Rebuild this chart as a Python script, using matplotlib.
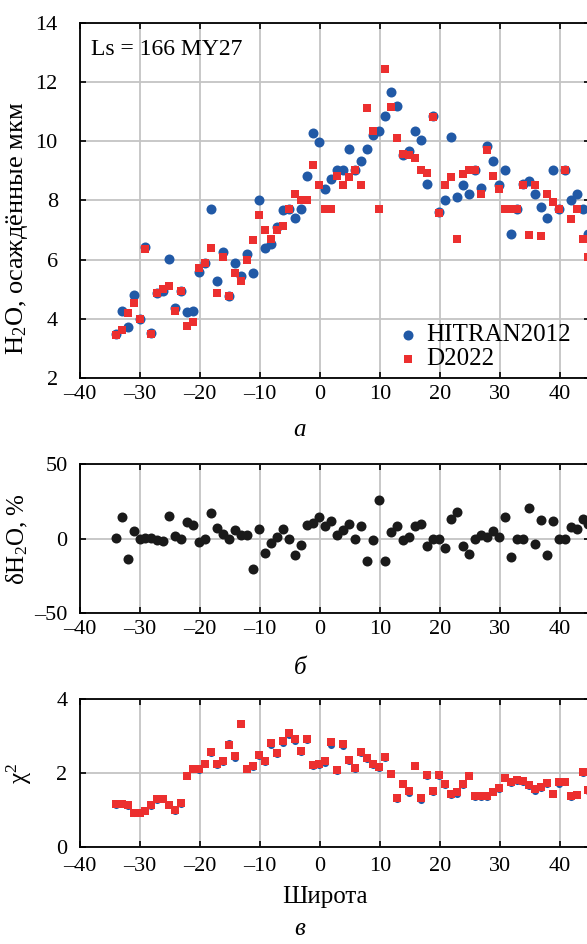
import numpy as np
import matplotlib
matplotlib.use("Agg")
import matplotlib.pyplot as plt

plt.rcParams['font.family'] = ['Liberation Serif', 'DejaVu Serif']
plt.rcParams['mathtext.fontset'] = 'custom'
plt.rcParams['mathtext.rm'] = 'Liberation Serif'
plt.rcParams['mathtext.it'] = 'Liberation Serif:italic'

# ── данные ───────────────────────────────────────────────────────
lat = [-34.0, -33.0, -32.0, -31.0, -30.0, -29.1, -28.1, -27.1, -26.1, -25.1,
       -24.1, -23.1, -22.1, -21.1, -20.1, -19.1, -18.1, -17.1, -16.1, -15.1,
       -14.1, -13.1, -12.1, -11.1, -10.1, -9.1, -8.1, -7.1, -6.1, -5.1,
       -4.1, -3.1, -2.1, -1.1, -0.1,
       0.9, 1.8, 2.8, 3.8, 4.8, 5.8, 6.8, 7.8, 8.8, 9.8,
       10.8, 11.8, 12.8, 13.8, 14.8, 15.8, 16.8, 17.8, 18.8, 19.8,
       20.8, 21.8, 22.8, 23.8, 24.8, 25.8, 26.8, 27.8, 28.8, 29.8,
       30.8, 31.8, 32.8, 33.8, 34.8, 35.8, 36.8, 37.8, 38.8, 39.8,
       40.8, 41.8, 42.8, 43.8, 44.7]

h2o_hitran = [3.48, 4.27, 3.72, 4.79, 4.00, 6.42, 3.52, 4.87, 4.94, 6.02,
              4.36, 4.95, 4.22, 4.27, 5.58, 5.90, 7.72, 5.28, 6.27, 4.78,
              5.90, 5.43, 6.18, 5.54, 8.01, 6.38, 6.52, 7.09, 7.67, 7.71,
              7.40, 7.71, 8.83, 10.26, 9.96,
              8.40, 8.72, 9.04, 9.04, 9.73, 9.04, 9.34, 9.72, 10.21, 10.35,
              10.85, 11.66, 11.17, 9.53, 9.66, 10.35, 10.03, 8.54, 10.85, 7.61,
              8.02, 10.15, 8.13, 8.53, 8.22, 9.03, 8.43, 9.84, 9.34, 8.53,
              9.03, 6.87, 7.72, 8.54, 8.65, 8.22, 7.79, 7.42, 9.03, 7.72,
              9.03, 8.02, 8.22, 7.72, 6.85]

h2o_d2022 = [3.44, 3.63, 4.21, 4.53, 4.00, 6.34, 3.47, 4.87, 5.00, 5.11,
             4.25, 4.94, 3.74, 3.88, 5.70, 5.88, 6.38, 4.87, 6.07, 4.78,
             5.56, 5.26, 6.00, 6.66, 7.51, 7.00, 6.69, 7.00, 7.15, 7.70,
             8.20, 8.01, 8.01, 9.20, 8.52,
             7.70, 7.70, 8.82, 8.52, 8.79, 9.01, 8.52, 11.13, 10.33, 7.70,
             12.45, 11.15, 10.12, 9.56, 9.53, 9.44, 9.01, 8.94, 10.83, 7.58,
             8.51, 8.79, 6.69, 8.90, 9.01, 9.01, 8.22, 9.70, 8.82, 8.39,
             7.70, 7.70, 7.70, 8.53, 6.84, 8.52, 6.81, 8.21, 7.96, 7.70,
             9.01, 7.38, 7.70, 6.69, 6.07]

delta_h2o = [0.7, 14.7, -13.3, 4.9, 0.0, 0.7, 0.7, -1.1, -1.6, 14.9,
             1.8, -0.2, 11.1, 9.1, -2.4, 0.0, 17.3, 7.3, 3.1, 0.0,
             5.6, 2.4, 2.4, -20.2, 6.4, -9.6, -2.9, 1.3, 6.7, 0.0,
             -10.9, -4.2, 9.1, 10.4, 14.6,
             8.5, 11.6, 2.2, 5.6, 9.6, 0.0, 8.7, -14.7, -1.1, 25.6,
             -14.7, 4.4, 8.7, -0.7, 1.3, 8.2, 10.0, -5.1, 0.0, 0.0,
             -6.2, 13.3, 17.6, -4.7, -10.0, 0.0, 2.2, 0.9, 5.3, 1.3,
             14.4, -12.2, 0.0, 0.0, 20.4, -3.8, 12.4, -10.9, 11.6, 0.0,
             0.0, 7.6, 6.2, 12.9, 10.0]

chi2_hitran = [1.15, 1.16, 1.12, 0.92, 0.92, 0.97, 1.12, 1.28, 1.30, 1.13,
               0.99, 1.18, 1.95, 2.12, 2.09, 2.24, 2.55, 2.23, 2.29, 2.82,
               2.42, 3.33, 2.10, 2.17, 2.46, 2.30, 2.76, 2.52, 2.80, 3.02,
               2.88, 2.56, 2.89, 2.19, 2.23,
               2.28, 2.76, 2.07, 2.73, 2.33, 2.10, 2.55, 2.37, 2.21, 2.15,
               2.41, 1.97, 1.30, 1.70, 1.46, 2.22, 1.28, 1.93, 1.50, 1.93,
               1.69, 1.42, 1.44, 1.68, 1.95, 1.36, 1.37, 1.37, 1.48, 1.58,
               1.86, 1.73, 1.80, 1.77, 1.64, 1.52, 1.60, 1.71, 1.43, 1.71,
               1.75, 1.37, 1.40, 2.00, 1.52]

chi2_d2022 = [1.16, 1.17, 1.13, 0.93, 0.93, 0.98, 1.13, 1.29, 1.31, 1.14,
              1.00, 1.20, 1.92, 2.11, 2.10, 2.25, 2.56, 2.26, 2.32, 2.77,
              2.46, 3.33, 2.12, 2.19, 2.50, 2.33, 2.82, 2.55, 2.86, 3.07,
              2.92, 2.59, 2.92, 2.23, 2.26,
              2.33, 2.83, 2.09, 2.79, 2.36, 2.13, 2.58, 2.40, 2.26, 2.17,
              2.44, 1.99, 1.33, 1.72, 1.51, 2.18, 1.32, 1.95, 1.52, 1.95,
              1.71, 1.44, 1.48, 1.70, 1.93, 1.38, 1.39, 1.39, 1.50, 1.61,
              1.88, 1.76, 1.82, 1.79, 1.68, 1.56, 1.63, 1.73, 1.45, 1.75,
              1.77, 1.39, 1.41, 2.03, 1.54]

xticks = [-40, -30, -20, -10, 0, 10, 20, 30, 40]
xticklabels = ['\u201340', '\u201330', '\u201320', '\u201310', '0', '10', '20', '30', '40']

BLUE = '#2159a6'
RED = '#ec2f2f'
FS = 16

W, H = 587, 944
fig = plt.figure(figsize=(W / 100, H / 100), dpi=100)


def rect(x0, x1, ytop, ybot):
    return [x0 / W, 1 - ybot / H, (x1 - x0) / W, (ybot - ytop) / H]


def style(ax, yticks, yticklabels, ylim, ypad, xpad=5):
    ax.set_xlim(-40, 45)
    ax.set_ylim(*ylim)
    ax.set_xticks(xticks)
    ax.set_xticklabels(xticklabels, fontsize=FS)
    ax.set_yticks(yticks)
    ax.set_yticklabels(yticklabels, fontsize=FS)
    ax.grid(True, color='#c4c4c4', lw=1.3)
    ax.set_axisbelow(True)
    ax.tick_params(direction='in', length=4, width=1.2, top=True, right=True)
    ax.tick_params(axis='x', pad=xpad)
    ax.tick_params(axis='y', pad=ypad)
    for s in ax.spines.values():
        s.set_linewidth(1.3)


# ── а ──
ax1 = fig.add_axes(rect(80, 590, 22.7, 378))
ax1.scatter(lat, h2o_hitran, s=52, marker='o', color=BLUE, lw=0, zorder=3, label='HITRAN2012')
ax1.scatter(lat, h2o_d2022, s=36, marker='s', color=RED, lw=0, zorder=4, label='D2022')
style(ax1, [2, 4, 6, 8, 10, 12, 14], ['2', '4', '6', '8', '10', '12', '14'], (2, 14), 16)
ax1.set_ylabel('H$_\\mathrm{2}$O, осаждённые мкм', fontsize=FS + 3)
ax1.yaxis.set_label_coords(-0.098, 0.42)
ax1.text(0.022, 0.925, 'Ls = 166 MY27', transform=ax1.transAxes, fontsize=FS + 1,
         ha='left', va='center')
ax1.legend(loc='lower left', bbox_to_anchor=(0.595, -0.02), frameon=False, fontsize=FS + 2,
           handlelength=0.8, handletextpad=0.3, labelspacing=0.05, borderaxespad=0.2)

# ── б ──
ax2 = fig.add_axes(rect(80, 590, 464, 613.3))
ax2.scatter(lat, delta_h2o, s=52, marker='o', color='#1a1a1a', lw=0, zorder=3)
style(ax2, [-50, 0, 50], ['\u201350', '0', '50'], (-50, 50), 9)
ax2.set_ylabel('δH$_\\mathrm{2}$O, %', fontsize=FS + 2)
ax2.yaxis.set_label_coords(-0.098, 0.5)

# ── в ──
ax3 = fig.add_axes(rect(80, 590, 699, 847.3))
ax3.scatter(lat, chi2_hitran, s=26, marker='o', color=BLUE, lw=0, zorder=3)
ax3.scatter(lat, chi2_d2022, s=26, marker='s', color=RED, lw=0, zorder=4)
style(ax3, [0, 2, 4], ['0', '2', '4'], (0, 4), 9, xpad=7)
ax3.set_ylabel('χ$^\\mathrm{2}$', fontsize=FS + 2)
ax3.yaxis.set_label_coords(-0.09, 0.5)
ax3.set_xlabel('Широта', fontsize=FS + 2)
ax3.xaxis.set_label_coords(0.48, -0.26)

for y, letter in [(430, 'а'), (668, 'б'), (929, 'в')]:
    fig.text(300 / W, 1 - y / H, letter, fontsize=FS + 2, style='italic',
             ha='center', va='center')

fig.savefig('out.png', dpi=100)
